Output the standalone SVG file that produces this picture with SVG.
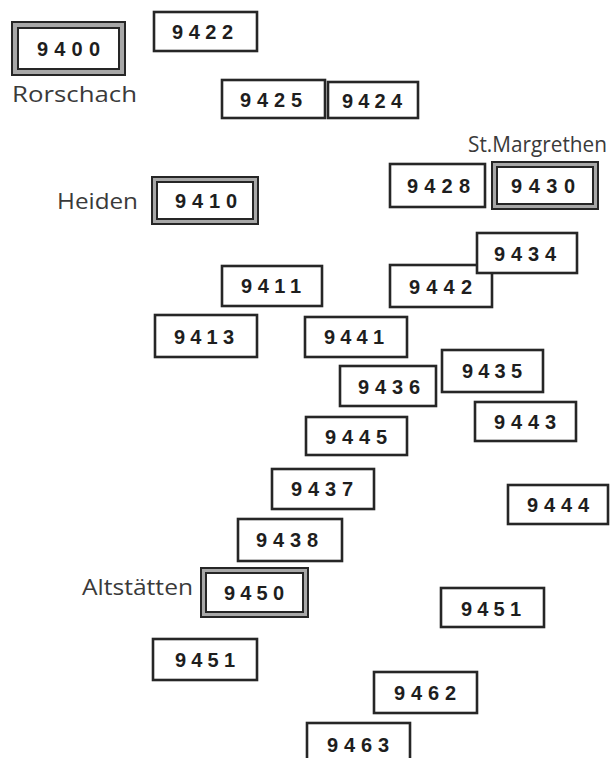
<svg xmlns="http://www.w3.org/2000/svg" width="611" height="758" viewBox="0 0 611 758">
<style>
.b{fill:#fff;stroke:#262626;stroke-width:2.6}
.o{fill:#a8a8a8;stroke:#262626;stroke-width:2}
.i{fill:#fff;stroke:#262626;stroke-width:2}
.d{font-family:"Liberation Sans",Arial,sans-serif;font-weight:bold;font-size:20px;fill:#1e1e1e}
.l{font-family:"Open Sans","Liberation Sans",sans-serif;font-size:21px;fill:#3a3a3a}
</style>
<rect width="611" height="758" fill="#fff"/>
<g id="labels">
<text class="l" x="12" y="102" textLength="125" lengthAdjust="spacingAndGlyphs">Rorschach</text>
<text class="l" x="468" y="152" textLength="139" lengthAdjust="spacingAndGlyphs">St.Margrethen</text>
<text class="l" x="57" y="209" textLength="81" lengthAdjust="spacingAndGlyphs">Heiden</text>
<text class="l" x="82" y="595" textLength="111" lengthAdjust="spacingAndGlyphs">Altstätten</text>
</g>
<g id="connectors"></g>
<g id="n9400"><rect class="o" x="12" y="22" width="113" height="53"/><rect class="i" x="18" y="28" width="101" height="41"/><text class="d" x="37" y="56" textLength="63">9400</text></g>
<g id="n9422"><rect class="b" x="154" y="12" width="103" height="39"/><text class="d" x="172" y="39" textLength="61">9422</text></g>
<g id="n9425"><rect class="b" x="222" y="80" width="103" height="38"/><text class="d" x="240" y="107" textLength="62">9425</text></g>
<g id="n9424"><rect class="b" x="328" y="82" width="90" height="36"/><text class="d" x="342" y="108" textLength="60">9424</text></g>
<g id="n9428"><rect class="b" x="390" y="164" width="95" height="43"/><text class="d" x="407" y="193" textLength="63">9428</text></g>
<g id="n9430"><rect class="o" x="492" y="162" width="106" height="47"/><rect class="i" x="497" y="167" width="96" height="37"/><text class="d" x="511" y="193" textLength="64">9430</text></g>
<g id="n9410"><rect class="o" x="152" y="177" width="106" height="47"/><rect class="i" x="157" y="182" width="96" height="37"/><text class="d" x="175" y="208" textLength="62">9410</text></g>
<g id="n9442"><rect class="b" x="390" y="265" width="102" height="42"/><text class="d" x="409" y="294" textLength="63">9442</text></g>
<g id="n9434"><rect class="b" x="477" y="233" width="100" height="40"/><text class="d" x="494" y="261" textLength="62">9434</text></g>
<g id="n9411"><rect class="b" x="222" y="266" width="100" height="40"/><text class="d" x="241" y="293" textLength="60">9411</text></g>
<g id="n9413"><rect class="b" x="155" y="315" width="102" height="42"/><text class="d" x="174" y="344" textLength="60">9413</text></g>
<g id="n9441"><rect class="b" x="305" y="317" width="102" height="40"/><text class="d" x="324" y="344" textLength="60">9441</text></g>
<g id="n9435"><rect class="b" x="442" y="350" width="101" height="42"/><text class="d" x="462" y="378" textLength="60">9435</text></g>
<g id="n9436"><rect class="b" x="340" y="366" width="96" height="40"/><text class="d" x="358" y="394" textLength="62">9436</text></g>
<g id="n9443"><rect class="b" x="475" y="402" width="101" height="39"/><text class="d" x="494" y="429" textLength="62">9443</text></g>
<g id="n9445"><rect class="b" x="306" y="417" width="101" height="38"/><text class="d" x="325" y="444" textLength="62">9445</text></g>
<g id="n9437"><rect class="b" x="272" y="469" width="102" height="40"/><text class="d" x="291" y="496" textLength="62">9437</text></g>
<g id="n9444"><rect class="b" x="508" y="485" width="100" height="39"/><text class="d" x="527" y="512" textLength="62">9444</text></g>
<g id="n9438"><rect class="b" x="238" y="519" width="104" height="42"/><text class="d" x="256" y="547" textLength="62">9438</text></g>
<g id="n9450"><rect class="o" x="201" y="568" width="107" height="49"/><rect class="i" x="206" y="573" width="97" height="39"/><text class="d" x="224" y="600" textLength="60">9450</text></g>
<g id="n9451r"><rect class="b" x="441" y="588" width="103" height="39"/><text class="d" x="461" y="616" textLength="60">9451</text></g>
<g id="n9451l"><rect class="b" x="153" y="639" width="104" height="41"/><text class="d" x="175" y="667" textLength="60">9451</text></g>
<g id="n9462"><rect class="b" x="374" y="672" width="103" height="41"/><text class="d" x="394" y="700" textLength="62">9462</text></g>
<g id="n9463"><rect class="b" x="307" y="723" width="103" height="40"/><text class="d" x="327" y="752" textLength="62">9463</text></g>
</svg>
